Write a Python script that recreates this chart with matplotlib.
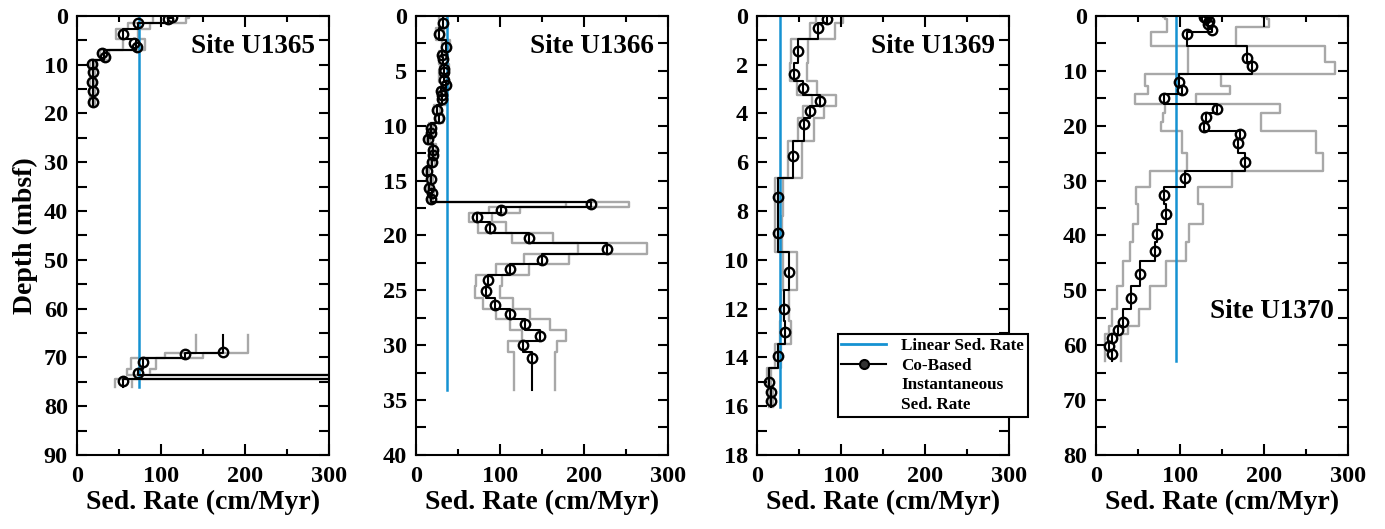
import numpy as np
import matplotlib
matplotlib.use('Agg')
import matplotlib.pyplot as plt
from matplotlib.ticker import MultipleLocator
from matplotlib.lines import Line2D

plt.rcParams['font.family'] = ['Liberation Serif', 'DejaVu Serif']
plt.rcParams['font.weight'] = 'bold'
plt.rcParams['axes.labelweight'] = 'bold'
plt.rcParams['mathtext.default'] = 'regular'

# ---------------- data ----------------
site_names = ['Site U1365', 'Site U1366', 'Site U1369', 'Site U1370']

# Site U1365
u1365_edges = [0, 0.4, 1.37, 2.73, 4.7, 7.0, 9.0, 18.2, 65.4, 69.1, 70.1, 72.3, 73.6, 74.4, 76.0]
u1365_rate = [113, 108, 73, 55, 70, 32, 18.5, np.nan, 174, 128, 79, 73, 2000, 55]
u1365_lo = [90, 90, 61, 46, 55, 27, 16, np.nan, 142, 105, 64, 59, 1500, 45]
u1365_hi = [133, 130, 87, 73, 81, 38, 21, np.nan, 203, 150, 94, 87, 2500, 65]
u1365_pt_depth = [0.2, 0.6, 1.5, 3.7, 5.5, 6.3, 7.7, 8.5, 9.8, 11.6, 13.6, 15.5, 17.7,
                  68.8, 69.3, 71.0, 73.2, 74.9]
u1365_pt_rate = [113, 108, 73, 55, 68, 71, 30, 33, 17.5, 19.5, 17.5, 19.5, 19.5,
                 174, 128, 79, 73, 55]
u1365_linear = 74
u1365_ymax = 90

# Site U1366
u1366_edges = [0, 1.15, 2.2, 3.2, 3.78, 4.4, 4.95, 5.45, 6.05, 6.55, 7.0, 7.4, 8.1, 8.95,
               9.75, 10.45, 10.95, 11.7, 12.45, 13.0, 13.7, 14.5, 15.3, 15.9, 16.4, 16.95,
               17.4, 18.0, 18.8, 19.75, 20.7, 21.7, 22.65, 23.6, 24.6, 25.7, 26.75, 27.65,
               28.65, 29.6, 30.6, 34.1]
u1366_rate = [32, 28, 36, 31, 32.5, 34, 33, 33, 36, 30, 31, 31, 25, 28, 17.5, 17.5, 14.7,
              20.6, 20, 19.4, 13.5, 17.5, 16, 18.6, 17.5,
              208, 101, 73, 88, 135, 227, 150, 112, 86, 83, 94, 112, 130, 148, 127, 138]
u1366_lo = [28, 24, 31, 27, 28, 29, 28, 28, 31, 26, 27, 27, 21, 24, 15, 15, 12.5,
            17.5, 17, 16.5, 11.5, 15, 13.5, 16, 15,
            179, 87, 63, 74, 114, 193, 129, 95, 71, 70, 80, 95, 112, 126, 109, 117]
u1366_hi = [37, 33, 41, 36, 37, 39, 38, 38, 41, 35, 36, 36, 29, 32, 20, 20, 17,
            24, 23, 22.5, 15.5, 20, 18.5, 21.5, 20,
            254, 124, 90, 107, 163, 275, 182, 135, 102, 100, 116, 136, 159, 179, 168, 166]
u1366_pt_depth = [0.67, 1.64, 2.8, 3.6, 3.95, 4.8, 5.1, 5.8, 6.3, 6.8, 7.2, 7.6, 8.6, 9.3,
                  10.2, 10.7, 11.2, 12.2, 12.7, 13.3, 14.1, 14.9, 15.7, 16.1, 16.7,
                  17.1, 17.7, 18.3, 19.3, 20.2, 21.2, 22.2, 23.1, 24.1, 25.1, 26.3, 27.2,
                  28.1, 29.2, 30.0, 31.2]
u1366_pt_rate = u1366_rate
u1366_linear = 36.5
u1366_ymax = 40

# Site U1369
u1369_edges = [0, 0.3, 0.96, 1.95, 2.69, 3.24, 3.69, 4.19, 5.15, 6.65, 8.2, 9.7, 11.23,
               12.5, 13.46, 14.44, 15.2, 15.6, 16.04]
u1369_rate = [83.4, 72.7, 48.3, 44.3, 55, 74.7, 62.9, 55.8, 42.3, 25.3, 24.5, 38, 32, 33.6,
              24.5, 14.6, 16.2, 16.6]
u1369_lo = [70, 63, 41, 39, 48, 65, 55, 49, 37, 21, 21, 31, 28, 27, 21, 12, 14, 14]
u1369_hi = [102, 93, 61, 59, 71, 94, 80, 68, 54, 31, 30, 48, 38, 41, 29, 17, 19, 19]
u1369_pt_depth = [0.12, 0.48, 1.43, 2.39, 2.94, 3.47, 3.92, 4.43, 5.74, 7.43, 8.9, 10.5,
                  12.0, 12.96, 13.93, 14.99, 15.44, 15.8]
u1369_pt_rate = u1369_rate
u1369_linear = 27.3
u1369_ymax = 18

# Site U1370
u1370_edges = [0, 0.27, 0.63, 1.15, 2.0, 3.0, 5.46, 8.4, 10.6, 12.8, 14.3, 16.1, 17.7,
               19.35, 20.9, 22.4, 25.0, 28.2, 31.1, 34.3, 37.9, 41.2, 44.7, 49.2, 53.4,
               56.5, 58.0, 59.4, 60.9, 62.8]
u1370_rate = [128, 131, 134, 133.2, 138.4, 108.3, 180, 185.4, 98.8, 102.8, 80.7, 143.9,
              131.3, 128.5, 171.7, 169.3, 177.6, 105.6, 80.7, 83.0, 73.2, 70.4, 52.2,
              41.5, 32.4, 26.5, 19.4, 15.8, 18.6]
u1370_lo = [80, 82, 84, 84, 84, 65, 109, 109, 58, 62, 47, 82, 80, 78, 103, 103, 108, 64,
            48, 50, 43.5, 40, 32, 24.5, 18.6, 15, 10.7, 10.7, 10.7]
u1370_hi = [198, 203, 206, 206, 167, 167, 273, 284, 149, 159, 119, 219, 197, 197, 262,
            262, 270, 162, 121, 127, 111, 107, 83, 64, 51, 38, 30, 30, 30]
u1370_pt_depth = [0.12, 0.42, 0.85, 1.46, 2.55, 3.34, 7.6, 9.2, 12.1, 13.5, 15.0, 16.9,
                  18.5, 20.2, 21.6, 23.2, 26.7, 29.6, 32.6, 36.1, 39.7, 42.8, 47.1, 51.4,
                  55.7, 57.3, 58.7, 60.2, 61.6]
u1370_pt_rate = u1370_rate
u1370_linear = 95.7
u1370_ymax = 80

sites = [
    (u1365_edges, u1365_rate, u1365_lo, u1365_hi, u1365_pt_depth, u1365_pt_rate, u1365_linear, u1365_ymax, 10, 5),
    (u1366_edges, u1366_rate, u1366_lo, u1366_hi, u1366_pt_depth, u1366_pt_rate, u1366_linear, u1366_ymax, 5, 2.5),
    (u1369_edges, u1369_rate, u1369_lo, u1369_hi, u1369_pt_depth, u1369_pt_rate, u1369_linear, u1369_ymax, 2, 1),
    (u1370_edges, u1370_rate, u1370_lo, u1370_hi, u1370_pt_depth, u1370_pt_rate, u1370_linear, u1370_ymax, 10, 5),
]

legend_labels = ['Linear Sed. Rate', 'Co-Based', 'Instantaneous', 'Sed. Rate']

# ---------------- style ----------------
BLUE = '#1592d2'
GREY = '#a8a8a8'
TICK_FS = 17.5
LABEL_FS = 20
SITE_FS = 19.5

def steps(edges, vals):
    e = np.asarray(edges, float)
    v = np.asarray(vals, float)
    y = np.repeat(e, 2)[1:-1]
    x = np.repeat(v, 2)
    return x, y

fig = plt.figure(figsize=(13.85, 5.29), dpi=100)
lefts = [0.0556, 0.3003, 0.5466, 0.7913]
bottom, width, height = 0.140, 0.182, 0.830

site_text_pos = [(0.945, 0.93), (0.945, 0.93), (0.945, 0.93), (0.945, 0.327)]

axes = []
for i, (edges, rate, lo, hi, pd_, pr_, lin, ymax, maj, mnr) in enumerate(sites):
    ax = fig.add_axes([lefts[i], bottom, width, height])
    axes.append(ax)
    xl, yl = steps(edges, lo)
    ax.plot(xl, yl, color=GREY, lw=1.7, zorder=1)
    xh, yh = steps(edges, hi)
    ax.plot(xh, yh, color=GREY, lw=1.7, zorder=1)
    ax.plot([lin, lin], [0, edges[-1]], color=BLUE, lw=1.8, zorder=2)
    xs, ys = steps(edges, rate)
    ax.plot(xs, ys, color='k', lw=1.5, zorder=3)
    ax.plot(pr_, pd_, linestyle='none', marker='o', ms=6.8, mfc='none', mec='k',
            mew=1.7, zorder=4)
    ax.set_xlim(0, 300)
    ax.set_ylim(ymax, 0)
    ax.xaxis.set_major_locator(MultipleLocator(100))
    ax.xaxis.set_minor_locator(MultipleLocator(50))
    ax.yaxis.set_major_locator(MultipleLocator(maj))
    ax.yaxis.set_minor_locator(MultipleLocator(mnr))
    ax.tick_params(which='both', direction='in', top=True, right=True, width=1.5,
                   labelsize=TICK_FS)
    ax.tick_params(axis='x', which='major', length=8, pad=8)
    ax.tick_params(axis='x', which='minor', length=4.5)
    ax.tick_params(axis='y', which='both', length=7, pad=6.5)
    for s in ax.spines.values():
        s.set_linewidth(1.5)
    ax.set_xlabel('Sed. Rate (cm/Myr)', fontsize=LABEL_FS, fontweight='bold', labelpad=2)
    tx, ty = site_text_pos[i]
    ax.text(tx, ty, site_names[i], transform=ax.transAxes, ha='right', va='center',
            fontsize=SITE_FS, fontweight='bold')

axes[0].set_ylabel('Depth (mbsf)', fontsize=LABEL_FS, fontweight='bold', labelpad=4)

handles = [Line2D([], [], color=BLUE, lw=2),
           Line2D([], [], color='k', lw=1.5, marker='o', ms=6.5, mfc='#333333', mec='k', mew=1.5),
           Line2D([], [], color='none'),
           Line2D([], [], color='none')]
leg = axes[2].legend(handles, legend_labels, loc='lower left', bbox_to_anchor=(0.32, 0.0866),
                     borderaxespad=0, fancybox=False, framealpha=1, edgecolor='k',
                     fontsize=12.3, handlelength=2.6, borderpad=0.22, labelspacing=0.22,
                     handletextpad=0.9)
leg.get_frame().set_linewidth(1.5)
leg.set_zorder(10)

fig.savefig('out.png', dpi=100)
